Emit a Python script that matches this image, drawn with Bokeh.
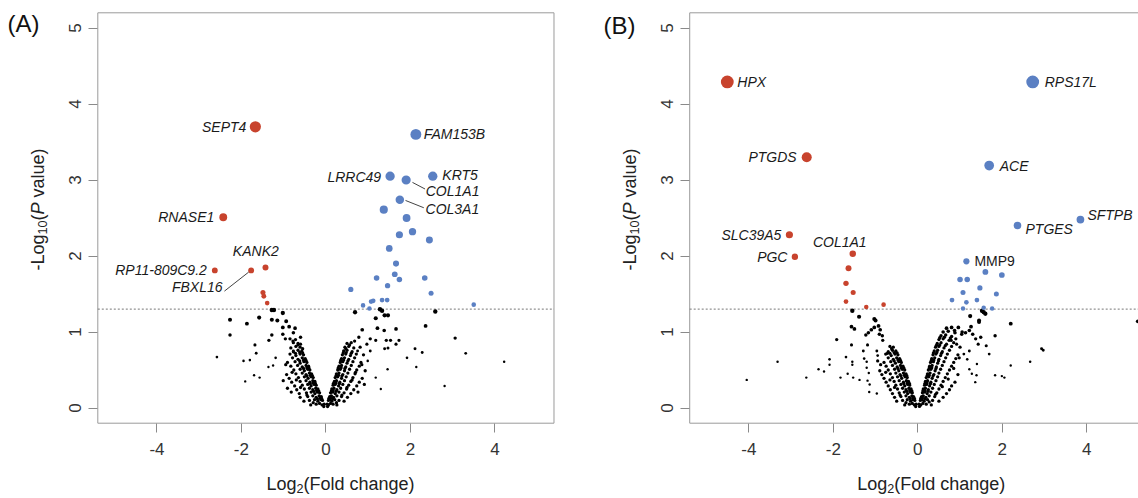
import math
from bokeh.plotting import figure
from bokeh.models import Range1d, Label, FixedTicker
from bokeh.layouts import row
from bokeh.embed import file_html
from bokeh.resources import INLINE
from bokeh.core.properties import value

RED = "#C8432D"
BLUE = "#5B80C3"
FONT = "Liberation Sans"

# ---------------- Panel A data ----------------
A_down_gene = ["SEPT4", "RNASE1", "RP11-809C9.2", "FBXL16", "KANK2", "", "", ""]
A_down_x = [-1.67, -2.43, -2.63, -1.77, -1.43, -1.49, -1.47, -1.39]
A_down_y = [3.70, 2.51, 1.81, 1.81, 1.85, 1.52, 1.47, 1.38]

A_up_gene = ["FAM153B", "LRRC49", "COL1A1", "KRT5", "COL3A1"] + [""] * 21
A_up_x = [2.13, 1.52, 1.90, 2.53, 1.75, 1.37, 1.91, 1.74, 2.05, 2.45, 1.50, 1.66, 1.20,
          1.63, 1.74, 2.34, 1.46, 0.59, 2.49, 1.12, 1.07, 0.88, 1.33, 1.45, 1.03, 3.50]
A_up_y = [3.60, 3.05, 3.00, 3.05, 2.74, 2.61, 2.50, 2.28, 2.32, 2.21, 2.10, 1.90, 1.71,
          1.76, 1.69, 1.71, 1.61, 1.56, 1.51, 1.41, 1.40, 1.35, 1.42, 1.42, 1.31, 1.36]

A_ns_x = [-2.27, -2.27, -1.87, -1.58, -1.28, -1.23, -1.02, -1.28, -1.15, -0.94, -1.02, -0.87,
          -0.73, -1.28, -1.35, -1.02, -0.96, -0.77, -1.68, -1.65, -2.58, -1.95, -1.80, -1.70,
          -1.91, -1.57, -1.25, -1.19, -1.36, -0.60, -0.60, -0.77,
          0.69, 0.86, 0.78, 1.18, 1.22, 1.38, 1.28, 1.33, 1.39, 1.47, 1.66, 2.36, 2.59, 3.06,
          3.31, 4.22, 2.11, 2.28, 2.14, 1.92, 2.81, 1.43, 1.53, 1.73, 1.66, 1.39, 1.47, 1.18,
          1.05, 0.97, 0.75, 1.05, 1.46, 1.30, 1.18, 0.99]
A_ns_y = [1.16, 0.96, 1.11, 1.19, 1.29, 1.29, 1.25, 1.16, 1.15, 1.14, 1.06, 1.07,
          1.05, 0.96, 0.89, 0.97, 0.91, 0.99, 0.83, 0.72, 0.67, 0.62, 0.63, 0.43,
          0.35, 0.40, 0.56, 0.66, 0.54, 0.93, 0.84, 0.75,
          1.26, 1.03, 0.93, 1.18, 1.05, 1.02, 1.30, 1.28, 1.22, 1.22, 1.04, 1.08, 1.27, 0.92,
          0.72, 0.61, 0.78, 0.73, 0.54, 0.66, 0.29, 0.89, 0.89, 0.89, 0.84, 0.78, 0.79, 0.89,
          0.91, 0.84, 0.75, 0.75, 0.51, 0.25, 0.40, 0.62]

A_core_x = [
    -0.04, -0.09, -0.15, -0.23, -0.36,
    -0.08, -0.12, -0.19, -0.27, -0.39, -0.52,
    -0.11, -0.16, -0.23, -0.31, -0.43, -0.61,
    -0.15, -0.20, -0.26, -0.35, -0.46, -0.63, -0.82,
    -0.19, -0.24, -0.31, -0.39, -0.51, -0.69, -0.91,
    -0.23, -0.28, -0.35, -0.43, -0.56, -0.74,
    -0.26, -0.31, -0.38, -0.47, -0.61, -0.81, -1.01,
    -0.30, -0.35, -0.42, -0.51, -0.65, -0.87,
    -0.34, -0.39, -0.47, -0.56, -0.71, -0.93,
    -0.38, -0.43, -0.51, -0.61, -0.76,
    -0.41, -0.47, -0.56, -0.67, -0.83,
    -0.45, -0.52, -0.61, -0.73, -0.91,
    -0.49, -0.56, -0.66, -0.79,
    -0.53, -0.61, -0.71, -0.85,
    -0.57, -0.66, -0.77,
    -0.61, -0.71, -0.83,
    -0.66, -0.77,
    -0.72, -0.85,
    0.03, 0.06, 0.11, 0.17, 0.26,
    0.06, 0.09, 0.14, 0.21, 0.31, 0.43,
    0.09, 0.13, 0.18, 0.26, 0.37, 0.51,
    0.11, 0.16, 0.22, 0.31, 0.43, 0.59, 0.76,
    0.14, 0.19, 0.26, 0.35, 0.49, 0.66,
    0.17, 0.22, 0.30, 0.40, 0.54, 0.73, 0.91,
    0.20, 0.25, 0.33, 0.44, 0.59, 0.79,
    0.22, 0.28, 0.37, 0.48, 0.64, 0.86,
    0.25, 0.31, 0.40, 0.52, 0.69,
    0.28, 0.34, 0.44, 0.56, 0.73, 0.93,
    0.31, 0.37, 0.47, 0.60, 0.79,
    0.34, 0.40, 0.50, 0.64, 0.83,
    0.37, 0.44, 0.54, 0.68,
    0.39, 0.47, 0.58, 0.72, 0.89,
    0.42, 0.50, 0.62,
    0.45, 0.54, 0.66, 0.81,
    0.50, 0.60,
]
A_core_y = [
    0.05, 0.04, 0.06, 0.05, 0.04,
    0.10, 0.11, 0.09, 0.11, 0.10, 0.09,
    0.15, 0.16, 0.14, 0.16, 0.15, 0.14,
    0.20, 0.21, 0.19, 0.21, 0.20, 0.19, 0.21,
    0.25, 0.26, 0.24, 0.26, 0.25, 0.24, 0.26,
    0.30, 0.31, 0.29, 0.31, 0.30, 0.29,
    0.35, 0.36, 0.34, 0.36, 0.35, 0.34, 0.36,
    0.40, 0.41, 0.39, 0.41, 0.40, 0.39,
    0.45, 0.46, 0.44, 0.46, 0.45, 0.44,
    0.50, 0.51, 0.49, 0.51, 0.50,
    0.55, 0.56, 0.54, 0.56, 0.55,
    0.60, 0.61, 0.59, 0.61, 0.60,
    0.65, 0.66, 0.64, 0.66,
    0.70, 0.71, 0.69, 0.71,
    0.75, 0.76, 0.74,
    0.80, 0.81, 0.79,
    0.85, 0.86,
    0.90, 0.91,
    0.05, 0.04, 0.06, 0.05, 0.04,
    0.10, 0.11, 0.09, 0.11, 0.10, 0.09,
    0.15, 0.16, 0.14, 0.16, 0.15, 0.14,
    0.20, 0.21, 0.19, 0.21, 0.20, 0.19, 0.21,
    0.25, 0.26, 0.24, 0.26, 0.25, 0.24,
    0.30, 0.31, 0.29, 0.31, 0.30, 0.29, 0.31,
    0.35, 0.36, 0.34, 0.36, 0.35, 0.34,
    0.40, 0.41, 0.39, 0.41, 0.40, 0.39,
    0.45, 0.46, 0.44, 0.46, 0.45,
    0.50, 0.51, 0.49, 0.51, 0.50, 0.49,
    0.55, 0.56, 0.54, 0.56, 0.55,
    0.60, 0.61, 0.59, 0.61, 0.60,
    0.65, 0.66, 0.64, 0.66,
    0.70, 0.71, 0.69, 0.71, 0.70,
    0.75, 0.76, 0.74,
    0.80, 0.81, 0.79, 0.80,
    0.85, 0.86,
]
A_edge_x = [-0.10, -0.14, -0.20, -0.17, -0.22, -0.29, -0.25, -0.30, -0.37, -0.32, -0.37, -0.45,
            -0.40, -0.45, -0.53, -0.47, -0.53, -0.62, -0.55, -0.62, -0.72,
            -0.05, -0.30, -0.45, -0.60, -0.70, -0.80, -0.95, -0.55, -0.66, -0.78,
            0.07, 0.11, 0.16, 0.13, 0.17, 0.24, 0.18, 0.24, 0.32, 0.24, 0.30, 0.38,
            0.29, 0.36, 0.45, 0.35, 0.42, 0.52, 0.41, 0.48, 0.60,
            0.04, 0.25, 0.38, 0.50, 0.62, 0.70, 0.85, 0.47, 0.56, 0.68]
A_edge_y = [0.125, 0.13, 0.12, 0.225, 0.23, 0.22, 0.325, 0.33, 0.32, 0.425, 0.43, 0.42,
            0.525, 0.53, 0.52, 0.625, 0.63, 0.62, 0.725, 0.73, 0.72,
            0.02, 0.07, 0.17, 0.27, 0.37, 0.47, 0.57, 0.78, 0.83, 0.88,
            0.125, 0.13, 0.12, 0.225, 0.23, 0.22, 0.325, 0.33, 0.32, 0.425, 0.43, 0.42,
            0.525, 0.53, 0.52, 0.625, 0.63, 0.62, 0.725, 0.73, 0.72,
            0.02, 0.07, 0.17, 0.27, 0.37, 0.47, 0.57, 0.78, 0.83, 0.88]

# ---------------- Panel B data ----------------
B_down_gene = ["HPX", "PTGDS", "SLC39A5", "PGC", "COL1A1", "", "", "", "", "", ""]
B_down_x = [-4.51, -2.63, -3.04, -2.91, -1.54, -1.64, -1.70, -1.53, -1.70, -1.22, -0.81]
B_down_y = [4.29, 3.30, 2.28, 1.99, 2.03, 1.84, 1.64, 1.52, 1.40, 1.33, 1.36]

B_up_gene = ["RPS17L", "ACE", "PTGES", "SFTPB", "MMP9"] + [""] * 13
B_up_x = [2.72, 1.69, 2.36, 3.85, 1.15, 1.60, 1.99, 1.00, 1.17, 1.47, 1.07, 1.86, 0.81,
          1.40, 1.15, 1.07, 1.56, 1.76]
B_up_y = [4.29, 3.19, 2.40, 2.48, 1.93, 1.79, 1.75, 1.69, 1.69, 1.58, 1.52, 1.50, 1.42,
          1.42, 1.39, 1.31, 1.32, 1.31]

B_ns_x = [-1.55, -1.39, -1.57, -1.50, -1.92, -1.57, -1.29, -1.19, -1.23, -1.17, -1.10, -1.03,
          -0.93, -1.03, -1.00, -0.89, -0.84, -0.83, -0.91, -2.09, -2.09, -2.35, -2.22, -2.64,
          -3.32, -4.05, -1.70, -1.55, -1.55, -1.83, -1.53, -1.66, -1.21, -1.16, -1.19, -1.14,
          -1.15, -0.97, -1.27, -1.21, -1.38, -0.97, -0.95,
          5.21, 2.20, 2.93, 2.97, 2.66, 2.20, 1.83, 1.99, 2.05, 1.83, 1.36, 1.62, 1.69, 1.40,
          1.24, 1.45, 1.45, 1.56, 1.26, 1.13, 1.52, 1.60, 1.22, 1.30, 1.37, 1.43, 1.49, 0.87,
          0.96, 1.04, 0.79, 0.92, 1.22, 1.09, 1.17, 1.28, 1.39, 1.22]
B_ns_y = [1.28, 1.20, 1.07, 1.04, 0.90, 0.83, 0.75, 0.83, 0.96, 0.99, 1.03, 1.06,
          1.08, 1.17, 1.15, 1.03, 0.95, 0.89, 0.97, 0.64, 0.57, 0.51, 0.48, 0.40,
          0.61, 0.37, 0.67, 0.61, 0.57, 0.40, 0.40, 0.45, 0.53, 0.46, 0.36, 0.31,
          0.21, 0.19, 0.65, 0.61, 0.37, 0.75, 0.69,
          1.14, 1.11, 0.78, 0.76, 0.61, 0.56, 0.95, 0.42, 0.40, 0.43, 0.34, 0.82, 0.71, 0.58,
          1.21, 1.15, 1.13, 1.26, 1.07, 0.99, 1.28, 1.24, 1.02, 0.97, 0.91, 0.84, 0.93, 1.02,
          1.06, 0.97, 0.89, 0.84, 0.75, 0.71, 0.64, 0.45, 0.43, 0.51]

B_core_x = [
    -0.04, -0.08, -0.13, -0.20, -0.31,
    -0.07, -0.11, -0.17, -0.25, -0.36, -0.50,
    -0.10, -0.14, -0.20, -0.28, -0.40, -0.55,
    -0.13, -0.18, -0.24, -0.32, -0.44, -0.60,
    -0.16, -0.21, -0.28, -0.36, -0.48, -0.65,
    -0.19, -0.24, -0.31, -0.40, -0.52, -0.70,
    -0.22, -0.27, -0.34, -0.44, -0.56, -0.75,
    -0.25, -0.30, -0.38, -0.48, -0.60, -0.80,
    -0.28, -0.34, -0.42, -0.52, -0.65, -0.85,
    -0.31, -0.37, -0.45, -0.55, -0.70, -0.90,
    -0.35, -0.41, -0.49, -0.60, -0.75,
    -0.39, -0.45, -0.53, -0.64, -0.80,
    -0.43, -0.50, -0.58, -0.70,
    -0.47, -0.54, -0.63, -0.76,
    -0.52, -0.60, -0.70,
    -0.58, -0.66,
    0.03, 0.07, 0.12, 0.20, 0.32,
    0.06, 0.10, 0.15, 0.23, 0.35, 0.50,
    0.09, 0.13, 0.19, 0.27, 0.40, 0.60,
    0.11, 0.16, 0.22, 0.31, 0.45, 0.68,
    0.13, 0.18, 0.25, 0.35, 0.50, 0.75,
    0.16, 0.21, 0.28, 0.39, 0.55, 0.80,
    0.18, 0.23, 0.31, 0.43, 0.60, 0.88,
    0.20, 0.26, 0.34, 0.47, 0.65,
    0.23, 0.29, 0.38, 0.50, 0.70, 0.95,
    0.25, 0.31, 0.41, 0.54, 0.75,
    0.28, 0.34, 0.44, 0.58, 0.80,
    0.30, 0.37, 0.47, 0.62, 0.85,
    0.33, 0.40, 0.50, 0.66, 0.90,
    0.36, 0.43, 0.54, 0.70, 0.95,
    0.39, 0.47, 0.58, 0.75,
    0.42, 0.50, 0.62, 0.80, 1.00,
    0.46, 0.55, 0.68, 0.85,
    0.50, 0.60, 0.74, 0.90,
    0.55, 0.66, 0.80,
    0.60, 0.72, 0.88, 1.05,
    0.68, 0.80,
]
B_core_y = [
    0.05, 0.04, 0.06, 0.05, 0.04,
    0.10, 0.11, 0.09, 0.11, 0.10, 0.09,
    0.15, 0.16, 0.14, 0.16, 0.15, 0.14,
    0.20, 0.21, 0.19, 0.21, 0.20, 0.19,
    0.25, 0.26, 0.24, 0.26, 0.25, 0.24,
    0.30, 0.31, 0.29, 0.31, 0.30, 0.29,
    0.35, 0.36, 0.34, 0.36, 0.35, 0.34,
    0.40, 0.41, 0.39, 0.41, 0.40, 0.39,
    0.45, 0.46, 0.44, 0.46, 0.45, 0.44,
    0.50, 0.51, 0.49, 0.51, 0.50, 0.49,
    0.55, 0.56, 0.54, 0.56, 0.55,
    0.60, 0.61, 0.59, 0.61, 0.60,
    0.65, 0.66, 0.64, 0.66,
    0.70, 0.71, 0.69, 0.71,
    0.75, 0.76, 0.74,
    0.80, 0.81,
    0.05, 0.04, 0.06, 0.05, 0.04,
    0.10, 0.11, 0.09, 0.11, 0.10, 0.09,
    0.15, 0.16, 0.14, 0.16, 0.15, 0.14,
    0.20, 0.21, 0.19, 0.21, 0.20, 0.19,
    0.25, 0.26, 0.24, 0.26, 0.25, 0.24,
    0.30, 0.31, 0.29, 0.31, 0.30, 0.29,
    0.35, 0.36, 0.34, 0.36, 0.35, 0.34,
    0.40, 0.41, 0.39, 0.41, 0.40,
    0.45, 0.46, 0.44, 0.46, 0.45, 0.44,
    0.50, 0.51, 0.49, 0.51, 0.50,
    0.55, 0.56, 0.54, 0.56, 0.55,
    0.60, 0.61, 0.59, 0.61, 0.60,
    0.65, 0.66, 0.64, 0.66, 0.65,
    0.70, 0.71, 0.69, 0.71, 0.70,
    0.75, 0.76, 0.74, 0.76,
    0.80, 0.81, 0.79, 0.81, 0.80,
    0.85, 0.86, 0.84, 0.86,
    0.90, 0.91, 0.89, 0.91,
    0.95, 0.96, 0.94,
    1.00, 1.01, 0.99, 1.00,
    1.05, 1.06,
]
B_edge_x = [-0.08, -0.12, -0.18, -0.14, -0.19, -0.26, -0.20, -0.25, -0.33, -0.26, -0.32, -0.40,
            -0.33, -0.39, -0.47, -0.41, -0.47, -0.56, -0.49, -0.56, -0.66,
            -0.05, -0.28, -0.42, -0.55, -0.66, -0.76, -0.88, -0.95, -0.62, -0.72,
            0.07, 0.11, 0.17, 0.12, 0.17, 0.24, 0.17, 0.22, 0.30, 0.22, 0.27, 0.36,
            0.27, 0.33, 0.43, 0.32, 0.38, 0.49, 0.37, 0.45, 0.56, 0.44, 0.52, 0.65,
            0.52, 0.63, 0.77, 0.04, 0.27, 0.42, 0.58, 0.72, 0.85, 0.98]
B_edge_y = [0.125, 0.13, 0.12, 0.225, 0.23, 0.22, 0.325, 0.33, 0.32, 0.425, 0.43, 0.42,
            0.525, 0.53, 0.52, 0.625, 0.63, 0.62, 0.725, 0.73, 0.72,
            0.02, 0.07, 0.17, 0.27, 0.37, 0.47, 0.57, 0.62, 0.78, 0.72,
            0.125, 0.13, 0.12, 0.225, 0.23, 0.22, 0.325, 0.33, 0.32, 0.425, 0.43, 0.42,
            0.525, 0.53, 0.52, 0.625, 0.63, 0.62, 0.725, 0.73, 0.72, 0.825, 0.83, 0.82,
            0.925, 0.93, 0.92, 0.02, 0.08, 0.18, 0.28, 0.38, 0.52, 0.66]

X_TICKS = [-4, -2, 0, 2, 4]
Y_TICKS = [0, 1, 2, 3, 4, 5]
X_LIM = (-5.4, 5.4)
Y_LIM = (-0.2, 5.2)
THRESH = 1.301

# label placement: gene -> (dx px, dy px (down +), align, italic)
A_LAB = {
    "SEPT4": (-9, 0, "right", True), "RNASE1": (-9, 0, "right", True),
    "RP11-809C9.2": (-8, 0, "right", True), "FBXL16": (-28.6, 16.7, "right", True),
    "KANK2": (-9.7, -16, "center", True), "FAM153B": (8, 0, "left", True),
    "LRRC49": (-9, 1, "right", True), "KRT5": (9.6, -1, "left", True),
    "COL1A1": (19.6, 10.7, "left", True), "COL3A1": (25.7, 9, "left", True),
}
A_LEAD = {"FBXL16": (-26.7, 20.7, -2.5, 1.7), "COL1A1": (6.3, 2.4, 18.9, 9.0),
          "COL3A1": (5.7, 0.7, 24.0, 8.0)}
B_LAB = {
    "HPX": (10, 0, "left", True), "RPS17L": (12, 0, "left", True),
    "PTGDS": (-10, 0, "right", True), "ACE": (10.5, 0, "left", True),
    "PTGES": (8, 3, "left", True), "SFTPB": (7, -5, "left", True),
    "SLC39A5": (-8, 0, "right", True), "PGC": (-7.4, 0, "right", True),
    "COL1A1": (-13, -11.6, "center", True), "MMP9": (8, 0, "left", False),
}
B_LEAD = {}

SX = 42.24     # px per x unit
SY = 76.0      # px per y unit
H = 498


def px2x(px, zero):
    return (px - zero) / SX


def py2y(py):
    return (407.5 - py) / SY


def dsize(y, floor=0.0):
    return max(floor, 0.8 + 2.8 * y)


def make_panel(left_px, width, zero_px, letter, letter_px, ns_x, ns_y, core_x, core_y,
               edge_x, edge_y, dn_g, dn_x, dn_y, up_g, up_x, up_y, labs, leads, xlab_px,
               ylab_px):
    x0 = px2x(left_px, zero_px)
    x1 = px2x(left_px + width, zero_px)
    p = figure(width=width, height=H, output_backend="svg", toolbar_location=None,
               x_range=Range1d(x0, x1), y_range=Range1d(py2y(H), py2y(0)),
               min_border=0, min_border_left=0, min_border_right=0, min_border_top=0,
               min_border_bottom=0, background_fill_color="white",
               border_fill_color="white", outline_line_color=None)
    p.grid.visible = False
    for ax in (p.xaxis[0], p.yaxis[0]):
        ax.axis_line_color = None
        ax.major_tick_line_color = "#8a8a8a"
        ax.major_tick_out = 9
        ax.major_tick_in = 0
        ax.minor_tick_line_color = None
        ax.major_label_text_font = FONT
        ax.major_label_text_font_size = "17px"
        ax.major_label_text_color = "#333333"
    p.xaxis.ticker = FixedTicker(ticks=X_TICKS)
    p.xaxis.major_label_overrides = {t: ("%d" % t) for t in X_TICKS}
    p.yaxis.ticker = FixedTicker(ticks=Y_TICKS)
    p.xaxis.fixed_location = Y_LIM[0]
    p.yaxis.fixed_location = X_LIM[0]
    p.xaxis.major_label_standoff = 11
    p.yaxis.major_label_standoff = 8
    p.yaxis.major_label_orientation = "vertical"

    # plot box and significance threshold
    p.quad(left=[X_LIM[0]], right=[X_LIM[1]], bottom=[Y_LIM[0]], top=[Y_LIM[1]],
           fill_color=None, line_color="#9a9a9a", line_width=1)
    p.segment(x0=[X_LIM[0]], x1=[X_LIM[1]], y0=[THRESH], y1=[THRESH],
              line_color="#777777", line_width=1, line_dash="2 2")

    cx = list(core_x) + list(edge_x)
    cy = list(core_y) + list(edge_y)
    p.scatter(cx, cy, size=[dsize(v, 3.3) for v in cy], marker="circle",
              fill_color="black", line_color=None)
    p.scatter(ns_x, ns_y, size=[dsize(v, 2.4) for v in ns_y], marker="circle",
              fill_color="black", line_color=None)
    p.scatter(dn_x, dn_y, size=[dsize(v) for v in dn_y], marker="circle",
              fill_color=RED, line_color=None)
    p.scatter(up_x, up_y, size=[dsize(v) for v in up_y], marker="circle",
              fill_color=BLUE, line_color=None)

    genes = list(zip(dn_g, dn_x, dn_y)) + list(zip(up_g, up_x, up_y))
    for g, gx, gy in genes:
        if not g:
            continue
        dx, dy, al, it = labs[g]
        p.text([gx], [gy], text=[g], x_offset=dx, y_offset=dy, text_align=al,
               text_baseline="middle", text_font=value(FONT), text_font_size="14px",
               text_font_style="italic" if it else "normal", text_color="#1a1a1a")
        if g in leads:
            a, b, c, d = leads[g]
            p.segment(x0=[gx + a / SX], y0=[gy - b / SY], x1=[gx + c / SX], y1=[gy - d / SY],
                      line_color="#444444", line_width=1)

    # x-axis title: Log2(Fold change)
    lx = px2x(xlab_px, zero_px)
    ly = py2y(483)
    for t, off, dy, fs in (("Log", 0.0, 0.0, "18px"), ("2", 30.0, 5.0, "12.6px"),
                           ("(Fold change)", 37.0, 0.0, "18px")):
        p.add_layout(Label(x=lx + off / SX, y=ly - dy / SY, text=t, text_font=FONT,
                           text_font_size=fs, text_baseline="middle", text_align="left",
                           text_color="#222222"))
    # y-axis title: -Log10(P value)
    yx = px2x(ylab_px, zero_px)
    y0 = py2y(270)
    pieces = [("-Log", 0.0, 0.0, "18px", "normal"), ("10", 36.0, 5.0, "12.6px", "normal"),
              ("(", 50.0, 0.0, "18px", "normal"), ("P", 56.0, 0.0, "18px", "italic"),
              ("value)", 73.0, 0.0, "18px", "normal")]
    for t, along, shift, fs, st in pieces:
        p.add_layout(Label(x=yx + shift / SX, y=y0 + along / SY, text=t, angle=math.pi / 2,
                           text_font=FONT, text_font_size=fs, text_font_style=st,
                           text_baseline="middle", text_align="left", text_color="#222222"))
    # panel letter
    p.add_layout(Label(x=px2x(letter_px[0], zero_px), y=py2y(letter_px[1]), text=letter,
                       text_font=FONT, text_font_size="24px", text_baseline="middle",
                       text_align="left", text_color="#111111"))
    return p


pA = make_panel(0, 590, 325.4, "(A)", (7, 23), A_ns_x, A_ns_y, A_core_x, A_core_y,
                A_edge_x, A_edge_y, A_down_gene, A_down_x, A_down_y,
                A_up_gene, A_up_x, A_up_y, A_LAB, A_LEAD, 266, 37)
pB = make_panel(590, 548, 917.3, "(B)", (603, 25), B_ns_x, B_ns_y, B_core_x, B_core_y,
                B_edge_x, B_edge_y, B_down_gene, B_down_x, B_down_y,
                B_up_gene, B_up_x, B_up_y, B_LAB, B_LEAD, 856.7, 629)

layout = row(pA, pB)
open("out.html", "w").write(file_html(layout, INLINE))
